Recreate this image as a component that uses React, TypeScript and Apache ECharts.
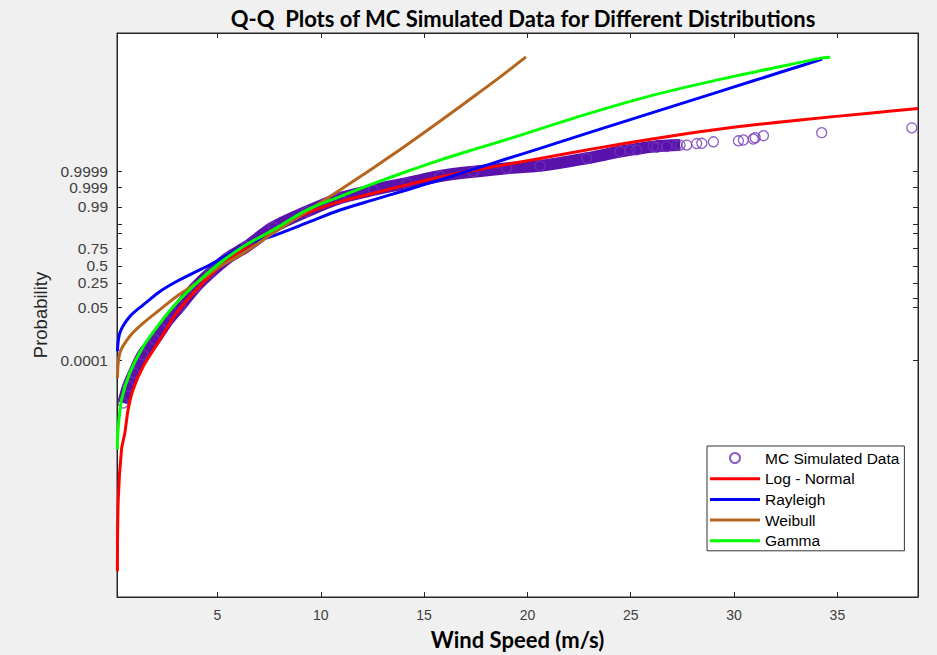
import React, { useEffect, useRef } from "react";
import * as echarts from "echarts";

// ---- axis ticks ----
const xTickValues = [5, 10, 15, 20, 25, 30, 35];
const yTickProbs = [0.0001, 0.05, 0.1, 0.25, 0.5, 0.75, 0.9, 0.95, 0.99, 0.999, 0.9999];
const yTickLabels = ["0.0001", "0.05", "", "0.25", "0.5", "0.75", "", "", "0.99", "0.999", "0.9999"];

// ---- data: [wind speed (m/s), normal quantile of probability] ----
const mcDense: number[][] = [
  [0.44, -5.41], [0.68, -4.75], [0.96, -4.22], [1.39, -3.5], [1.97, -2.91], [2.56, -2.2],
  [3.18, -1.6], [3.91, -0.87], [4.64, -0.29], [5.51, 0.31], [6.41, 0.76], [7.7, 1.52],
  [9.32, 2.14], [10.93, 2.67], [12.54, 2.99], [14.16, 3.26], [15.77, 3.54], [17.38, 3.71],
  [19.0, 3.85], [20.61, 3.94], [22.87, 4.24], [24.48, 4.5], [26.09, 4.7], [27.39, 4.76],
];
const mcSparse: number[][] = [
  [24.97, 4.57], [25.29, 4.57], [26.26, 4.67], [26.74, 4.7], [27.23, 4.76], [27.71, 4.76],
  [28.19, 4.82], [28.44, 4.83], [29.0, 4.89], [30.21, 4.93], [30.45, 4.96], [30.93, 5.0],
  [31.02, 5.05], [31.42, 5.13], [34.24, 5.25], [38.6, 5.44],
];
const logNormal: number[][] = [
  [0.16, -12.04], [0.2, -9.21], [0.36, -7.24], [0.52, -6.59], [0.68, -5.67], [0.92, -4.88],
  [1.41, -3.96], [2.22, -2.91], [3.02, -1.86], [3.99, -0.94], [5.12, -0.03], [6.57, 0.83],
  [7.7, 1.42], [9.32, 2.07], [10.93, 2.53], [12.54, 2.86], [14.16, 3.19], [15.77, 3.5],
  [17.38, 3.76], [19.0, 4.0], [20.61, 4.23], [23.51, 4.66], [26.74, 5.09], [29.96, 5.46],
  [33.19, 5.75], [36.42, 6.01], [38.9, 6.2],
];
const rayleigh: number[][] = [
  [0.16, -3.37], [0.28, -2.64], [0.76, -2.0], [1.41, -1.54], [2.22, -1.01], [3.02, -0.62],
  [3.99, -0.22], [4.64, 0.04], [6.57, 0.89], [7.7, 1.18], [9.32, 1.69], [10.93, 2.2],
  [12.54, 2.6], [14.16, 2.99], [15.77, 3.39], [17.38, 3.8], [19.0, 4.22], [20.61, 4.63],
  [22.87, 5.22], [26.09, 6.05], [29.32, 6.88], [32.55, 7.71], [34.26, 8.15],
];
const weibull: number[][] = [
  [0.16, -4.42], [0.28, -3.43], [0.76, -2.78], [1.41, -2.26], [2.22, -1.73], [3.02, -1.21],
  [3.99, -0.68], [5.12, -0.03], [6.25, 0.5], [7.7, 1.29], [9.32, 2.14], [10.93, 2.99],
  [12.54, 3.86], [13.83, 4.58], [15.43, 5.5], [17.06, 6.47], [18.67, 7.44], [19.93, 8.24],
];
const gamma: number[][] = [
  [0.16, -7.24], [0.18, -6.57], [0.36, -5.28], [0.76, -4.22], [1.41, -3.18], [2.22, -2.26],
  [3.02, -1.47], [3.99, -0.68], [5.12, 0.11], [6.25, 0.76], [7.7, 1.42], [9.32, 2.2],
  [10.93, 2.73], [12.54, 3.24], [14.16, 3.72], [15.77, 4.17], [17.38, 4.58], [19.0, 4.98],
  [22.87, 5.98], [26.09, 6.73], [29.32, 7.35], [32.55, 7.91], [34.16, 8.18], [34.65, 8.22],
];

// inverse standard normal CDF (Acklam)
function normInv(p: number): number {
  const a = [-39.69683028665376, 220.9460984245205, -275.9285104469687, 138.357751867269, -30.66479806614716, 2.506628277459239];
  const b = [-54.47609879822406, 161.5858368580409, -155.6989798598866, 66.80131188771972, -13.28068155288572];
  const c = [-0.007784894002430293, -0.3223964580411365, -2.400758277161838, -2.549732539343734, 4.374664141464968, 2.938163982698783];
  const d = [0.007784695709041462, 0.3224671290700398, 2.445134137142996, 3.754408661907416];
  const pl = 0.02425;
  if (p < pl) {
    const q = Math.sqrt(-2 * Math.log(p));
    return (((((c[0] * q + c[1]) * q + c[2]) * q + c[3]) * q + c[4]) * q + c[5]) /
      ((((d[0] * q + d[1]) * q + d[2]) * q + d[3]) * q + 1);
  }
  if (p > 1 - pl) {
    const q = Math.sqrt(-2 * Math.log(1 - p));
    return -(((((c[0] * q + c[1]) * q + c[2]) * q + c[3]) * q + c[4]) * q + c[5]) /
      ((((d[0] * q + d[1]) * q + d[2]) * q + d[3]) * q + 1);
  }
  const q = p - 0.5;
  const r = q * q;
  return (((((a[0] * r + a[1]) * r + a[2]) * r + a[3]) * r + a[4]) * r + a[5]) * q /
    (((((b[0] * r + b[1]) * r + b[2]) * r + b[3]) * r + b[4]) * r + 1);
}

const LINE_ICON = "path://M0,0 L50,0 L50,3 L0,3 Z";

export default function App() {
  const ref = useRef<HTMLDivElement>(null);
  useEffect(() => {
    if (!ref.current) return;
    const chart = echarts.init(ref.current, undefined, { renderer: "svg" });
    const zTicks = yTickProbs.map(normInv);
    const zLabeled = zTicks.filter((_, i) => yTickLabels[i] !== "");
    const labelFor = (v: number) => {
      for (let i = 0; i < zTicks.length; i++) if (Math.abs(zTicks[i] - v) < 1e-6) return yTickLabels[i];
      return "";
    };
    const axisColor = "#262626";
    const xMin = 0.14, xMax = 38.9, yMin = -13.06, yMax = 9.18;
    const tickStyle = { inside: true, length: 5, lineStyle: { color: axisColor, width: 1 } };
    const lineSeries = (name: string, data: number[][], color: string) => ({
      name, type: "line", data, smooth: 0.3, symbol: "none", showSymbol: false,
      lineStyle: { color, width: 3 }, itemStyle: { color }, z: 4, clip: true,
    });
    chart.setOption({
      animation: false,
      backgroundColor: "#f0f0f0",
      title: {
        text: "Q-Q  Plots of MC Simulated Data for Different Distributions",
        left: 523, textAlign: "center", top: 7, padding: 0,
        textStyle: { fontFamily: "Lato", fontWeight: "bold", fontSize: 22, color: "#000" },
      },
      grid: { left: 117, right: 19, top: 33, bottom: 57, show: true, backgroundColor: "#fff", borderColor: axisColor, borderWidth: 1 },
      legend: {
        data: [
          { name: "MC Simulated Data" },
          { name: "Log - Normal", icon: LINE_ICON },
          { name: "Rayleigh", icon: LINE_ICON },
          { name: "Weibull", icon: LINE_ICON },
          { name: "Gamma", icon: LINE_ICON },
        ],
        orient: "vertical", left: 707, top: 446, itemWidth: 50, itemHeight: 10, itemGap: 4.7,
        padding: [4, 5, 2, 3], backgroundColor: "#fff", borderColor: "#333", borderWidth: 1, borderRadius: 0,
        textStyle: { fontFamily: "Liberation Sans", fontSize: 15.5, lineHeight: 15, color: "#000" },
      },
      xAxis: [
        {
          type: "value", min: xMin, max: xMax, position: "bottom",
          name: "Wind Speed (m/s)", nameLocation: "middle", nameGap: 31,
          nameTextStyle: { fontFamily: "Lato", fontWeight: "bold", fontSize: 22, color: "#000" },
          axisLine: { show: true, onZero: false, lineStyle: { color: axisColor } },
          axisTick: { ...tickStyle, customValues: xTickValues },
          axisLabel: { customValues: xTickValues, margin: 11, fontFamily: "Liberation Sans", fontSize: 14, color: "#404040" },
          splitLine: { show: false },
        },
        {
          type: "value", min: xMin, max: xMax, position: "top",
          axisLine: { show: true, onZero: false, lineStyle: { color: axisColor } },
          axisTick: { ...tickStyle, customValues: xTickValues },
          axisLabel: { show: false },
          splitLine: { show: false },
        },
      ],
      yAxis: [
        {
          type: "value", min: yMin, max: yMax, position: "left",
          name: "Probability", nameLocation: "middle", nameGap: 67,
          nameTextStyle: { fontFamily: "Liberation Sans", fontSize: 18.5, color: "#262626" },
          axisLine: { show: true, onZero: false, lineStyle: { color: axisColor } },
          axisTick: { ...tickStyle, customValues: zTicks },
          axisLabel: { customValues: zLabeled, formatter: labelFor, margin: 9, fontFamily: "Liberation Sans", fontSize: 15.5, color: "#404040" },
          splitLine: { show: false },
        },
        {
          type: "value", min: yMin, max: yMax, position: "right",
          axisLine: { show: true, onZero: false, lineStyle: { color: axisColor } },
          axisTick: { ...tickStyle, customValues: zTicks },
          axisLabel: { show: false },
          splitLine: { show: false },
        },
      ],
      series: [
        {
          name: "MC band", type: "line", data: mcDense, smooth: 0.3, symbol: "none", showSymbol: false,
          lineStyle: { color: "#5a12ac", width: 12 }, z: 2, silent: true,
        },
        {
          name: "MC Simulated Data", type: "scatter", data: [...mcDense, ...mcSparse], symbol: "circle", symbolSize: 10,
          itemStyle: { color: "transparent", borderColor: "#7034b8", borderWidth: 1.3 }, z: 3,
        },
        lineSeries("Log - Normal", logNormal, "#ff0000"),
        lineSeries("Rayleigh", rayleigh, "#0000ff"),
        lineSeries("Weibull", weibull, "#b5651d"),
        lineSeries("Gamma", gamma, "#00ff00"),
      ],
    });
    return () => chart.dispose();
  }, []);
  return <div ref={ref} style={{ position: "fixed", left: 0, top: 0, width: 937, height: 655 }} />;
}
